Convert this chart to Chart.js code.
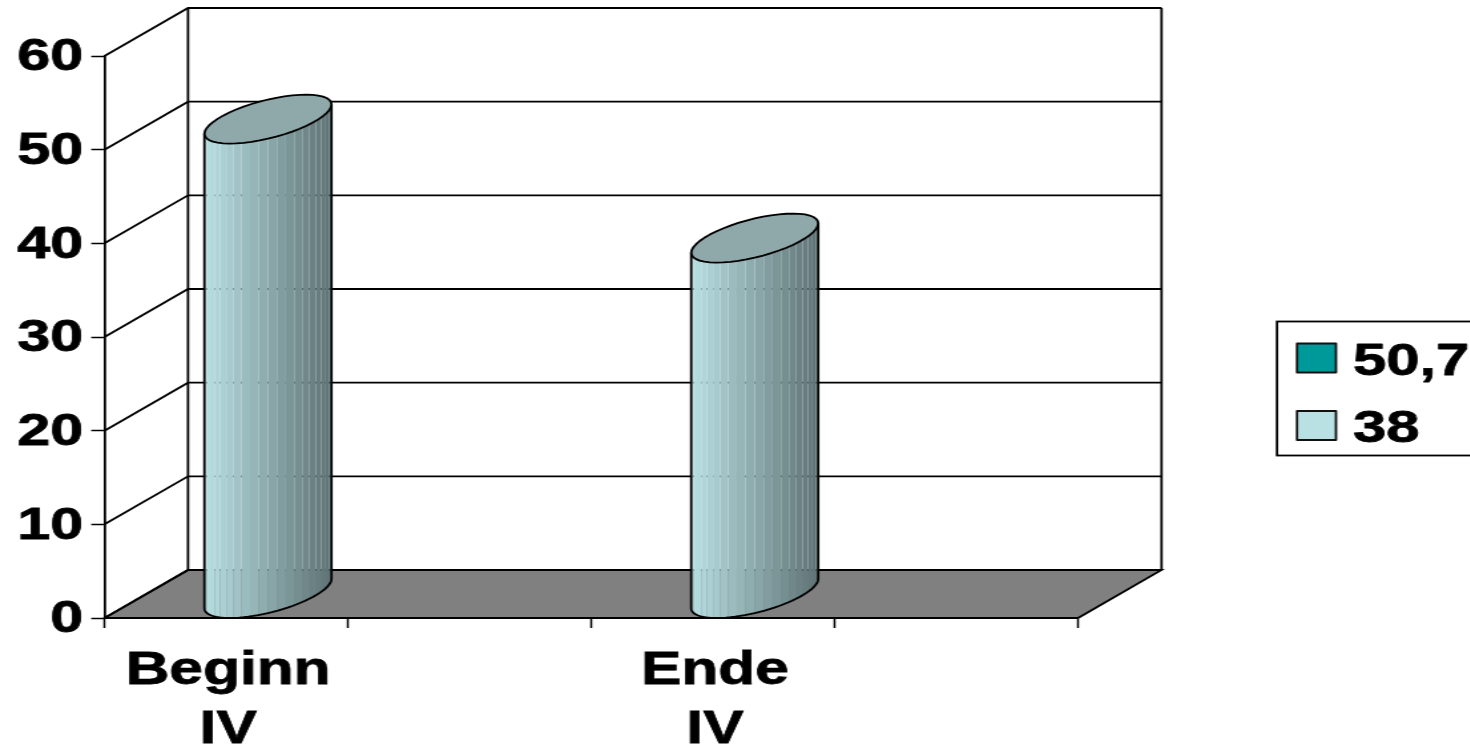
<!DOCTYPE html>
<html>
<head>
<meta charset="utf-8">
<title>Beginn / Ende IV</title>
<script src="https://cdn.jsdelivr.net/npm/chart.js@4/dist/chart.umd.min.js"></script>
<style>
    html, body { margin: 0; padding: 0; background: #fff; overflow: hidden; width: 1470px; height: 745px; }
    /* the whole chart is set wide, type included */
    #chart { display: block; transform-origin: 0 0; transform: scaleX(1.33); }
</style>
</head>
<body>
<canvas id="chart" width="1106" height="745"></canvas>
<script>
const categories = [['Beginn', 'IV'], '', ['Ende', 'IV'], ''];
const values = [50.7, null, 38, null];
const yTicks = [0, 10, 20, 30, 40, 50, 60];
const legendLabels = ['50,7', '38'];
const legendColors = ['#009999', '#b9e0e3'];

const STRETCH = 1.33;
const px = (x) => x / STRETCH;

const DEPTH_X = px(83.5);
const DEPTH_Y = 48;
const FAMILY = '"Liberation Sans", Arial, sans-serif';
const LINE = 1.8;

function mix(a, b, f) {
    const c = a.map((v, i) => Math.round(v + (b[i] - v) * f));
    return `rgb(${c[0]},${c[1]},${c[2]})`;
}

// floor, back wall and side wall behind the columns
const wallsPlugin = {
    id: 'walls',
    beforeDatasetsDraw(chart) {
        const { ctx, chartArea: a, scales: { y } } = chart;
        ctx.save();
        ctx.strokeStyle = '#000';
        ctx.lineWidth = LINE;

        ctx.beginPath();
        ctx.moveTo(a.left, a.bottom);
        ctx.lineTo(a.right, a.bottom);
        ctx.lineTo(a.right + DEPTH_X, a.bottom - DEPTH_Y);
        ctx.lineTo(a.left + DEPTH_X, a.bottom - DEPTH_Y);
        ctx.closePath();
        ctx.fillStyle = '#808080';
        ctx.fill();
        ctx.stroke();

        yTicks.forEach((t) => {
            const py = y.getPixelForValue(t);
            ctx.beginPath();
            ctx.moveTo(a.left, py);
            ctx.lineTo(a.left + DEPTH_X, py - DEPTH_Y);
            ctx.lineTo(a.right + DEPTH_X, py - DEPTH_Y);
            ctx.stroke();
        });

        ctx.beginPath();
        ctx.moveTo(a.left + DEPTH_X, a.bottom - DEPTH_Y);
        ctx.lineTo(a.left + DEPTH_X, a.top - DEPTH_Y);
        ctx.moveTo(a.right + DEPTH_X, a.bottom - DEPTH_Y);
        ctx.lineTo(a.right + DEPTH_X, a.top - DEPTH_Y);
        ctx.stroke();
        ctx.restore();
    }
};

// cylinders built on the bar elements, so height comes from the y scale
const cylinderPlugin = {
    id: 'cylinders',
    afterDatasetsDraw(chart) {
        const { ctx } = chart;
        const STRIPS = 22;
        const light = [184, 224, 227];
        const dark = [94, 114, 116];

        chart.getDatasetMeta(0).data.forEach((bar, i) => {
            if (values[i] === null) return;
            const r = bar.width / 2;
            const cx = bar.x + DEPTH_X / 2;
            const topY = bar.y - DEPTH_Y / 2;
            const baseY = bar.base - DEPTH_Y / 2;
            const ex = (t) => cx + r * Math.cos(t);
            const ey = (t) => -14.7 * Math.cos(t) + 19.6 * Math.sin(t);

            ctx.save();
            for (let s = 0; s < STRIPS; s++) {
                const t0 = Math.PI - (s / STRIPS) * Math.PI;
                const t1 = Math.PI - ((s + 1) / STRIPS) * Math.PI;
                const mid = (ex(t0) + ex(t1)) / 2;
                ctx.beginPath();
                ctx.moveTo(ex(t0), topY + ey(t0));
                ctx.lineTo(ex(t1), topY + ey(t1));
                ctx.lineTo(ex(t1), baseY + ey(t1));
                ctx.lineTo(ex(t0), baseY + ey(t0));
                ctx.closePath();
                ctx.fillStyle = mix(light, dark, (mid - (cx - r)) / (2 * r));
                ctx.fill();
            }

            ctx.strokeStyle = '#000';
            ctx.lineWidth = LINE;
            ctx.lineJoin = 'round';
            ctx.beginPath();
            ctx.moveTo(ex(Math.PI), topY + ey(Math.PI));
            ctx.lineTo(ex(Math.PI), baseY + ey(Math.PI));
            for (let s = 1; s <= 40; s++) {
                const t = Math.PI - (s / 40) * Math.PI;
                ctx.lineTo(ex(t), baseY + ey(t));
            }
            ctx.lineTo(ex(0), topY + ey(0));
            ctx.stroke();

            ctx.beginPath();
            for (let s = 0; s < 48; s++) {
                const t = (s / 48) * Math.PI * 2;
                if (s === 0) ctx.moveTo(ex(t), topY + ey(t));
                else ctx.lineTo(ex(t), topY + ey(t));
            }
            ctx.closePath();
            ctx.fillStyle = '#8fa9ab';
            ctx.fill();
            ctx.stroke();
            ctx.restore();
        });
    }
};

// boxed legend to the right, running off the edge of the page
const legendBoxPlugin = {
    id: 'legendBox',
    afterDraw(chart) {
        const { ctx } = chart;
        const rowY = [343.5, 411];
        const baseline = [375, 442];
        ctx.save();
        ctx.strokeStyle = '#000';
        ctx.lineWidth = LINE;
        ctx.strokeRect(px(1277), 321.5, px(300), 134);
        ctx.font = `bold 45px ${FAMILY}`;
        ctx.textBaseline = 'alphabetic';
        ctx.lineJoin = 'round';
        legendLabels.forEach((label, i) => {
            ctx.fillStyle = legendColors[i];
            ctx.fillRect(px(1297), rowY[i], px(39), 29);
            ctx.strokeStyle = '#111';
            ctx.lineWidth = LINE;
            ctx.strokeRect(px(1297), rowY[i], px(39), 29);
            ctx.fillStyle = '#000';
            ctx.fillText(label, px(1353), baseline[i]);
            ctx.strokeStyle = '#000';
            ctx.lineWidth = 0.8;
            ctx.strokeText(label, px(1353), baseline[i]);
        });
        ctx.restore();
    }
};

new Chart(document.getElementById('chart'), {
    type: 'bar',
    data: {
        labels: categories,
        datasets: [{
            label: legendLabels[1],
            data: values,
            backgroundColor: 'rgba(0,0,0,0)',
            barPercentage: 0.522,
            categoryPercentage: 1
        }]
    },
    options: {
        responsive: false,
        animation: false,
        layout: { padding: { left: 0, top: 56, right: 1106 - px(1078), bottom: 0 } },
        plugins: { legend: { display: false }, tooltip: { enabled: false } },
        scales: {
            x: {
                afterFit: (s) => { s.height = 127; },
                grid: { drawOnChartArea: false, tickLength: 10, tickColor: '#000', tickWidth: 1.5 },
                border: { color: '#000', width: 2 },
                ticks: {
                    autoSkip: false,
                    maxRotation: 0,
                    padding: 14,
                    labelOffset: 1.5,
                    color: '#000',
                    textStrokeColor: '#000',
                    textStrokeWidth: 0.8,
                    font: { family: FAMILY, size: 45.5, weight: 'bold', lineHeight: 1.3 }
                }
            },
            y: {
                min: 0,
                max: 60,
                afterFit: (s) => { s.width = px(104.5); },
                grid: { drawOnChartArea: false, tickLength: 10, tickColor: '#000', tickWidth: 1.5 },
                border: { color: '#000', width: LINE },
                ticks: {
                    stepSize: 10,
                    padding: 6,
                    labelOffset: 2,
                    color: '#000',
                    textStrokeColor: '#000',
                    textStrokeWidth: 0.8,
                    font: { family: FAMILY, size: 44.5, weight: 'bold' }
                }
            }
        }
    },
    plugins: [wallsPlugin, cylinderPlugin, legendBoxPlugin]
});
</script>
</body>
</html>
